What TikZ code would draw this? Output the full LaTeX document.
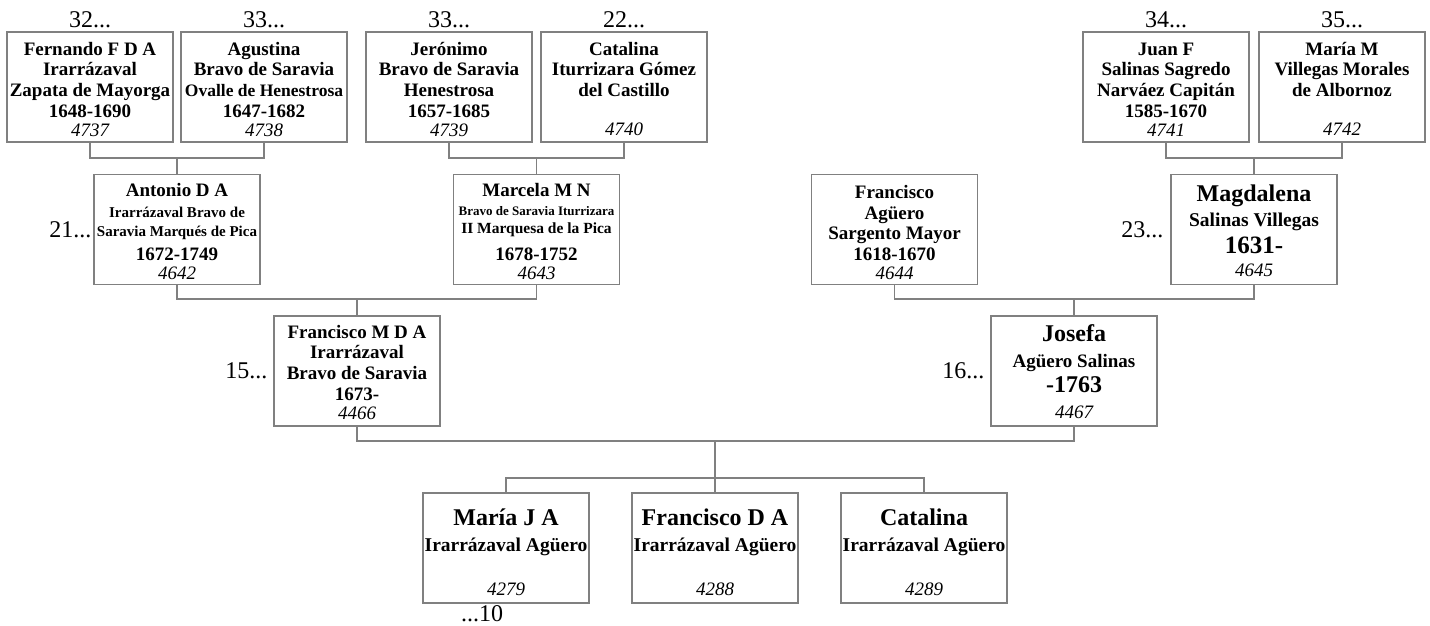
\documentclass[tikz,border=0pt]{standalone}
\usepackage{fontspec}
\setmainfont{Liberation Serif}
\usetikzlibrary{positioning}

\definecolor{framegray}{gray}{0.5}

\newcommand{\pline}[3]{{\fontsize{#1}{#2}\selectfont\bfseries #3\par}}
\newcommand{\pf}[1]{\pline{19}{23}{#1}}
\newcommand{\pn}[1]{\pline{19}{20.7}{#1}}
\newcommand{\pcard}[3][6pt]{\parbox[c][110pt][s]{166pt}{\centering\prevdepth=0pt
  #2\vfill{\fontsize{19}{19}\selectfont\itshape #3\par}\kern#1}}

\begin{document}
\begin{tikzpicture}[x=1pt, y=-1pt,
  card/.style={draw=framegray, line width=1.1pt, inner sep=0pt, fill=white},
  link/.style={draw=framegray, line width=1.1pt},
  gen/.style={font=\fontsize{24}{24}\selectfont, inner sep=0pt},
]
\useasboundingbox (0,0) rectangle (1430,626);

% great-grandparents
\node[card] (p4737) at (90,87) {\pcard{\pf{Fernando F D A}\pn{Irarrázaval}\pn{Zapata de Mayorga}\pn{1648-1690}}{4737}};
\node[card] (p4738) at (264,87) {\pcard{\pf{Agustina}\pn{Bravo de Saravia}\pline{17.5}{20.7}{Ovalle de Henestrosa}\pn{1647-1682}}{4738}};
\node[card] (p4739) at (449,87) {\pcard{\pf{Jerónimo}\pn{Bravo de Saravia}\pn{Henestrosa}\pn{1657-1685}}{4739}};
\node[card] (p4740) at (624,87) {\pcard{\pf{Catalina}\pn{Iturrizara Gómez}\pn{del Castillo}}{4740}};
\node[card] (p4741) at (1166,87) {\pcard{\pf{Juan F}\pn{Salinas Sagredo}\pn{Narváez Capitán}\pn{1585-1670}}{4741}};
\node[card] (p4742) at (1342,87) {\pcard{\pf{María M}\pn{Villegas Morales}\pn{de Albornoz}}{4742}};

\node[gen, above=3pt of p4737] (g4737) {32...};
\node[gen, above=3pt of p4738] (g4738) {33...};
\node[gen, above=3pt of p4739] (g4739) {33...};
\node[gen, above=3pt of p4740] (g4740) {22...};
\node[gen, above=3pt of p4741] (g4741) {34...};
\node[gen, above=3pt of p4742] (g4742) {35...};

% grandparents
\node[card] (p4642) at (177,229.5) {\pcard[5pt]{\pline{19}{22}{Antonio D A}\pline{15}{21}{Irarrázaval Bravo de}\pline{15}{19}{Saravia Marqués de Pica}\pline{19}{24}{1672-1749}}{4642}};
\node[card] (p4643) at (536.5,229.5) {\pcard[5pt]{\pline{19}{22}{Marcela M N}\pline{13}{19}{Bravo de Saravia Iturrizara}\pline{15.5}{17.5}{II Marquesa de la Pica}\pline{19}{27}{1678-1752}}{4643}};
\node[card] (p4644) at (894.5,229.5) {\pcard[5pt]{\pline{19}{24}{Francisco}\pn{Agüero}\pn{Sargento Mayor}\pn{1618-1670}}{4644}};
\node[card] (p4645) at (1254,229.5) {\pcard[8pt]{\pline{24}{27}{Magdalena}\pline{19.5}{25}{Salinas Villegas}\pline{25}{27}{1631-}}{4645}};

\node[gen, left=2pt of p4642] (g4642) {21...};
\node[gen, left=7pt of p4645] (g4645) {23...};

% parents
\node[card] (p4466) at (357,371) {\pcard{\pline{19}{22}{Francisco M D A}\pn{Irarrázaval}\pn{Bravo de Saravia}\pn{1673-}}{4466}};
\node[card] (p4467) at (1074,371) {\pcard[7pt]{\pline{24}{25}{Josefa}\pline{19}{26}{Agüero Salinas}\pline{24}{25}{-1763}}{4467}};

\node[gen, left=6pt of p4466] (g4466) {15...};
\node[gen, left=6pt of p4467] (g4467) {16...};

% children
\node[card] (p4279) at (506,548) {\pcard[7pt]{\pline{24}{32}{María J A}\pline{19.5}{26}{Irarrázaval Agüero}}{4279}};
\node[card] (p4288) at (715,548) {\pcard[7pt]{\pline{24}{32}{Francisco D A}\pline{19.5}{26}{Irarrázaval Agüero}}{4288}};
\node[card] (p4289) at (924,548) {\pcard[7pt]{\pline{24}{32}{Catalina}\pline{19.5}{26}{Irarrázaval Agüero}}{4289}};

\node[gen, below=2pt of p4279, xshift=-24pt] (g4279) {...10};

% couples
\coordinate (u4642) at (177,158);
\coordinate (u4643) at (536.5,158);
\coordinate (u4645) at (1254,158);
\coordinate (u4466) at (357,299);
\coordinate (u4467) at (1074,299);
\coordinate (fam) at (715,441);
\coordinate (sib) at (715,478);

\draw[link] (p4737.south) |- (u4642) -| (p4738.south);
\draw[link] (u4642) -- (p4642.north);
\draw[link] (p4739.south) |- (u4643) -| (p4740.south);
\draw[link] (u4643) -- (p4643.north);
\draw[link] (p4741.south) |- (u4645) -| (p4742.south);
\draw[link] (u4645) -- (p4645.north);
\draw[link] (p4642.south) |- (u4466) -| (p4643.south);
\draw[link] (u4466) -- (p4466.north);
\draw[link] (p4644.south) |- (u4467) -| (p4645.south);
\draw[link] (u4467) -- (p4467.north);
\draw[link] (p4466.south) |- (fam) -| (p4467.south);
\draw[link] (fam) -- (p4288.north);
\draw[link] (p4279.north) |- (sib) -| (p4289.north);
\end{tikzpicture}
\end{document}
